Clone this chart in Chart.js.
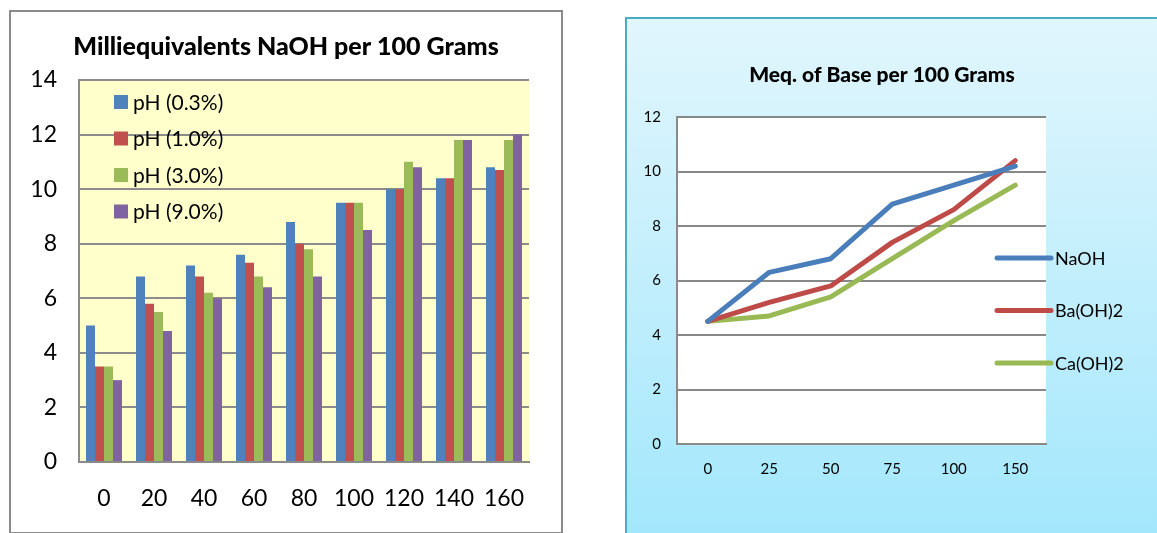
<!DOCTYPE html>
<html><head><meta charset="utf-8">
<script src="https://cdn.jsdelivr.net/npm/chart.js@4/dist/chart.umd.min.js"></script>
<style>
html,body{margin:0;padding:0;background:#fff;width:1157px;height:533px;overflow:hidden;position:relative}
#leftBox{position:absolute;left:9px;top:10px;width:550px;height:520px;border:2px solid #8a8a8a;background:#fff}
#rightBox{position:absolute;left:625px;top:17px;width:600px;height:600px;border-left:2px solid #4bacc6;border-top:2px solid #4bacc6;background:linear-gradient(#e1f6fd,#a3e7fc 520px)}
canvas{position:absolute;left:0;top:0}
</style></head>
<body>
<div id="leftBox"><canvas id="c1" width="550" height="519"></canvas></div>
<div id="rightBox"><canvas id="c2" width="530" height="514"></canvas></div>
<script>
// ---- Left chart data ----
const barTitle = 'Milliequivalents NaOH per 100 Grams';
const barCategories = ['0','20','40','60','80','100','120','140','160'];
const barSeriesNames = ['pH (0.3%)','pH (1.0%)','pH (3.0%)','pH (9.0%)'];
const ph03 = [5.0, 6.8, 7.2, 7.6, 8.8, 9.5, 10.0, 10.4, 10.8];
const ph10 = [3.5, 5.8, 6.8, 7.3, 8.0, 9.5, 10.0, 10.4, 10.7];
const ph30 = [3.5, 5.5, 6.2, 6.8, 7.8, 9.5, 11.0, 11.8, 11.8];
const ph90 = [3.0, 4.8, 6.0, 6.4, 6.8, 8.5, 10.8, 11.8, 12.0];
const barYMin = 0, barYMax = 14, barYStep = 2;

// ---- Right chart data ----
const lineTitle = 'Meq. of Base per 100 Grams';
const lineCategories = ['0','25','50','75','100','150'];
const lineSeriesNames = ['NaOH','Ba(OH)2','Ca(OH)2'];
const naoh = [4.5, 6.3, 6.8, 8.8, 9.5, 10.2];
const baoh2 = [4.5, 5.2, 5.8, 7.4, 8.6, 10.4];
const caoh2 = [4.5, 4.7, 5.4, 6.8, 8.2, 9.5];
const lineYMin = 0, lineYMax = 12, lineYStep = 2;

const FONT = 'Lato, "Open Sans", sans-serif';
Chart.defaults.font.family = FONT;
Chart.defaults.color = '#000';

const plotBg = {
  id: 'plotBg',
  beforeDraw(chart, args, opts) {
    const {ctx, chartArea: a} = chart;
    ctx.save(); ctx.fillStyle = opts.color;
    ctx.fillRect(a.left, a.top, a.right - a.left, a.bottom - a.top);
    ctx.restore();
  }
};
const customTitle = {
  id: 'customTitle',
  afterDraw(chart, args, opts) {
    const ctx = chart.ctx; ctx.save();
    ctx.font = opts.font; ctx.fillStyle = '#000';
    ctx.textAlign = 'center'; ctx.textBaseline = 'middle';
    ctx.fillText(opts.text, opts.x, opts.y);
    ctx.restore();
  }
};
const customLegend = {
  id: 'customLegend',
  afterDatasetsDraw(chart, args, opts) {
    const ctx = chart.ctx; ctx.save();
    ctx.font = opts.font; ctx.fillStyle = '#000';
    ctx.textBaseline = 'middle'; ctx.textAlign = 'left';
    chart.data.datasets.forEach((ds, i) => {
      const y = opts.y + i * opts.dy;
      if (opts.type === 'box') {
        ctx.fillStyle = ds.backgroundColor;
        ctx.fillRect(opts.x, y - opts.box / 2, opts.box, opts.box);
      } else {
        ctx.strokeStyle = ds.borderColor; ctx.lineWidth = ds.borderWidth; ctx.lineCap = 'round';
        ctx.beginPath(); ctx.moveTo(opts.x, y); ctx.lineTo(opts.x + opts.lineLen, y); ctx.stroke();
      }
      ctx.fillStyle = '#000';
      ctx.fillText(ds.label, opts.textX, y + 1);
    });
    ctx.restore();
  }
};

const barColors = ['#4f81bd', '#c0504d', '#9bbb59', '#8064a2'];
new Chart(document.getElementById('c1'), {
  type: 'bar',
  data: {
    labels: barCategories,
    datasets: [ph03, ph10, ph30, ph90].map((d, i) => ({
      label: barSeriesNames[i], data: d, backgroundColor: barColors[i],
      categoryPercentage: 0.72, barPercentage: 1.0, borderWidth: 0
    }))
  },
  options: {
    responsive: false, animation: false,
    layout: {padding: {left: 0, right: 32, top: 68, bottom: 0}},
    plugins: {
      legend: {display: false}, tooltip: {enabled: false}, title: {display: false},
      plotBg: {color: '#ffffcc'},
      customTitle: {text: barTitle, font: '900 25px ' + FONT, x: 275, y: 35},
      customLegend: {type: 'box', x: 103, y: 90, dy: 36.5, box: 14, textX: 122, font: '21px ' + FONT}
    },
    scales: {
      x: {
        grid: {display: false, drawTicks: false},
        border: {display: true, color: '#8a8a8a', width: 2},
        ticks: {font: {size: 23}, color: '#000', padding: 23, maxRotation: 0, autoSkip: false},
        afterFit(s) { s.height = 69; }
      },
      y: {
        min: barYMin, max: barYMax,
        grid: {color: '#8c8c8c', lineWidth: 2, drawTicks: false},
        border: {display: true, color: '#8a8a8a', width: 2},
        ticks: {stepSize: barYStep, font: {size: 23}, color: '#000', padding: 22},
        afterFit(s) { s.width = 68; }
      }
    }
  },
  plugins: [plotBg, customTitle, customLegend]
});

const lineColors = ['#4a7ebb', '#be4b48', '#98b954'];
new Chart(document.getElementById('c2'), {
  type: 'line',
  data: {
    labels: lineCategories,
    datasets: [naoh, baoh2, caoh2].map((d, i) => ({
      label: lineSeriesNames[i], data: d, borderColor: lineColors[i], backgroundColor: lineColors[i],
      borderWidth: 5, pointRadius: 0, tension: 0, fill: false, borderCapStyle: 'round', borderJoinStyle: 'round'
    }))
  },
  options: {
    responsive: false, animation: false,
    layout: {padding: {left: 0, right: 111, top: 98, bottom: 0}},
    plugins: {
      legend: {display: false}, tooltip: {enabled: false}, title: {display: false},
      plotBg: {color: '#ffffff'},
      customTitle: {text: lineTitle, font: '900 21px ' + FONT, x: 255, y: 56},
      customLegend: {type: 'line', x: 370, y: 239, dy: 52.5, lineLen: 54, textX: 428, font: '18px ' + FONT}
    },
    scales: {
      x: {
        offset: true,
        grid: {display: false, drawTicks: false},
        border: {display: true, color: '#8a8a8a', width: 2},
        ticks: {font: {size: 15}, color: '#000', padding: 16, maxRotation: 0, autoSkip: false},
        afterFit(s) { s.height = 89; }
      },
      y: {
        min: lineYMin, max: lineYMax,
        grid: {color: '#888888', lineWidth: 2, drawTicks: false},
        border: {display: true, color: '#8a8a8a', width: 2},
        ticks: {stepSize: lineYStep, font: {size: 15}, color: '#000', padding: 16},
        afterFit(s) { s.width = 50; }
      }
    }
  },
  plugins: [plotBg, customTitle, customLegend]
});
</script>
</body></html>
